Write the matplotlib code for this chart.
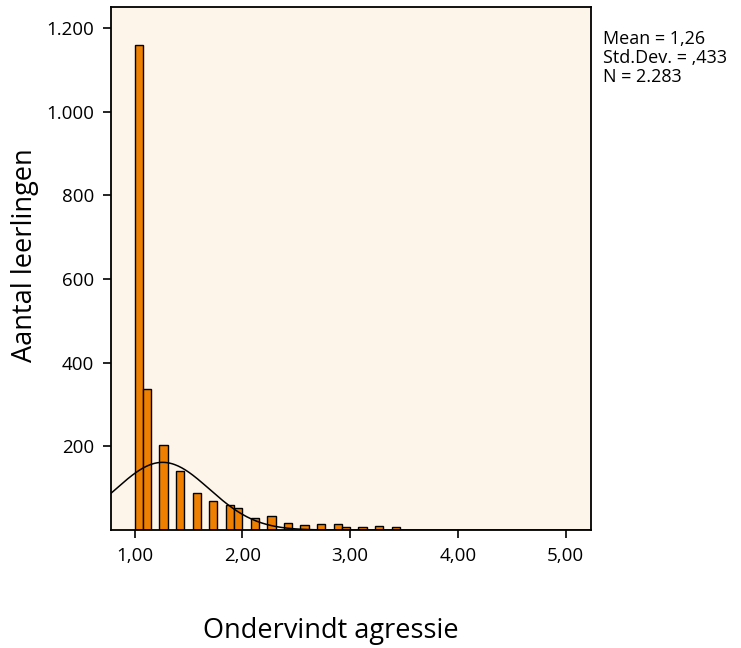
import numpy as np
import matplotlib
matplotlib.use("Agg")
import matplotlib.pyplot as plt

# histogram bins (width 1/13, starting at 1.0) and counts
bin_width = 1 / 13
bin_index = [0, 1, 3, 5, 7, 9, 11, 12, 14, 16, 18, 20, 22, 24, 25, 27, 29, 31]
counts = [1160, 338, 204, 141, 88, 70, 59, 53, 30, 33, 17, 12, 14, 14, 8, 7, 9, 7]

# fitted normal curve parameters (from the legend)
mean = 1.26
std_dev = 0.433
n_total = 2283

x_ticks = [1, 2, 3, 4, 5]
x_tick_labels = ["1,00", "2,00", "3,00", "4,00", "5,00"]
y_ticks = [200, 400, 600, 800, 1000, 1200]
y_tick_labels = ["200", "400", "600", "800", "1.000", "1.200"]

plt.rcParams['font.family'] = ['Open Sans', 'DejaVu Sans']

fig = plt.figure(figsize=(7.41, 6.48), dpi=100)
ax = fig.add_axes([0.1494, 0.182, 0.6486, 0.8067])
ax.set_facecolor("#fdf5ea")

lefts = [1 + k * bin_width for k in bin_index]
ax.bar(lefts, counts, width=bin_width, align="edge",
       color="#ef7f00", edgecolor="black", linewidth=1.0, zorder=2)

xs = np.linspace(0.779, 5.237, 400)
curve = n_total * bin_width / (std_dev * np.sqrt(2 * np.pi)) * \
    np.exp(-0.5 * ((xs - mean) / std_dev) ** 2)
ax.plot(xs, curve, color="black", linewidth=1.1, zorder=3)

ax.set_xlim(0.779, 5.237)
ax.set_ylim(0, 1249)
ax.set_xticks(x_ticks)
ax.set_xticklabels(x_tick_labels)
ax.set_yticks(y_ticks)
ax.set_yticklabels(y_tick_labels)
ax.tick_params(direction="out", length=6, width=1.2, labelsize=13.5, pad=6)

for s in ax.spines.values():
    s.set_linewidth(1.3)

ax.set_xlabel("Ondervindt agressie", fontsize=19.5)
ax.xaxis.set_label_coords(0.459, -0.193)
ax.set_ylabel("Aantal leerlingen", fontsize=19.5)
ax.yaxis.set_label_coords(-0.178, 0.526)
ax.xaxis.label.set_va("center")
ax.yaxis.label.set_va("center")

fig.text(0.814, 0.954, "Mean = 1,26\nStd.Dev. = ,433\nN = 2.283",
         fontsize=13, va="top", ha="left", linespacing=1.08)

fig.savefig("out.png", dpi=100)
